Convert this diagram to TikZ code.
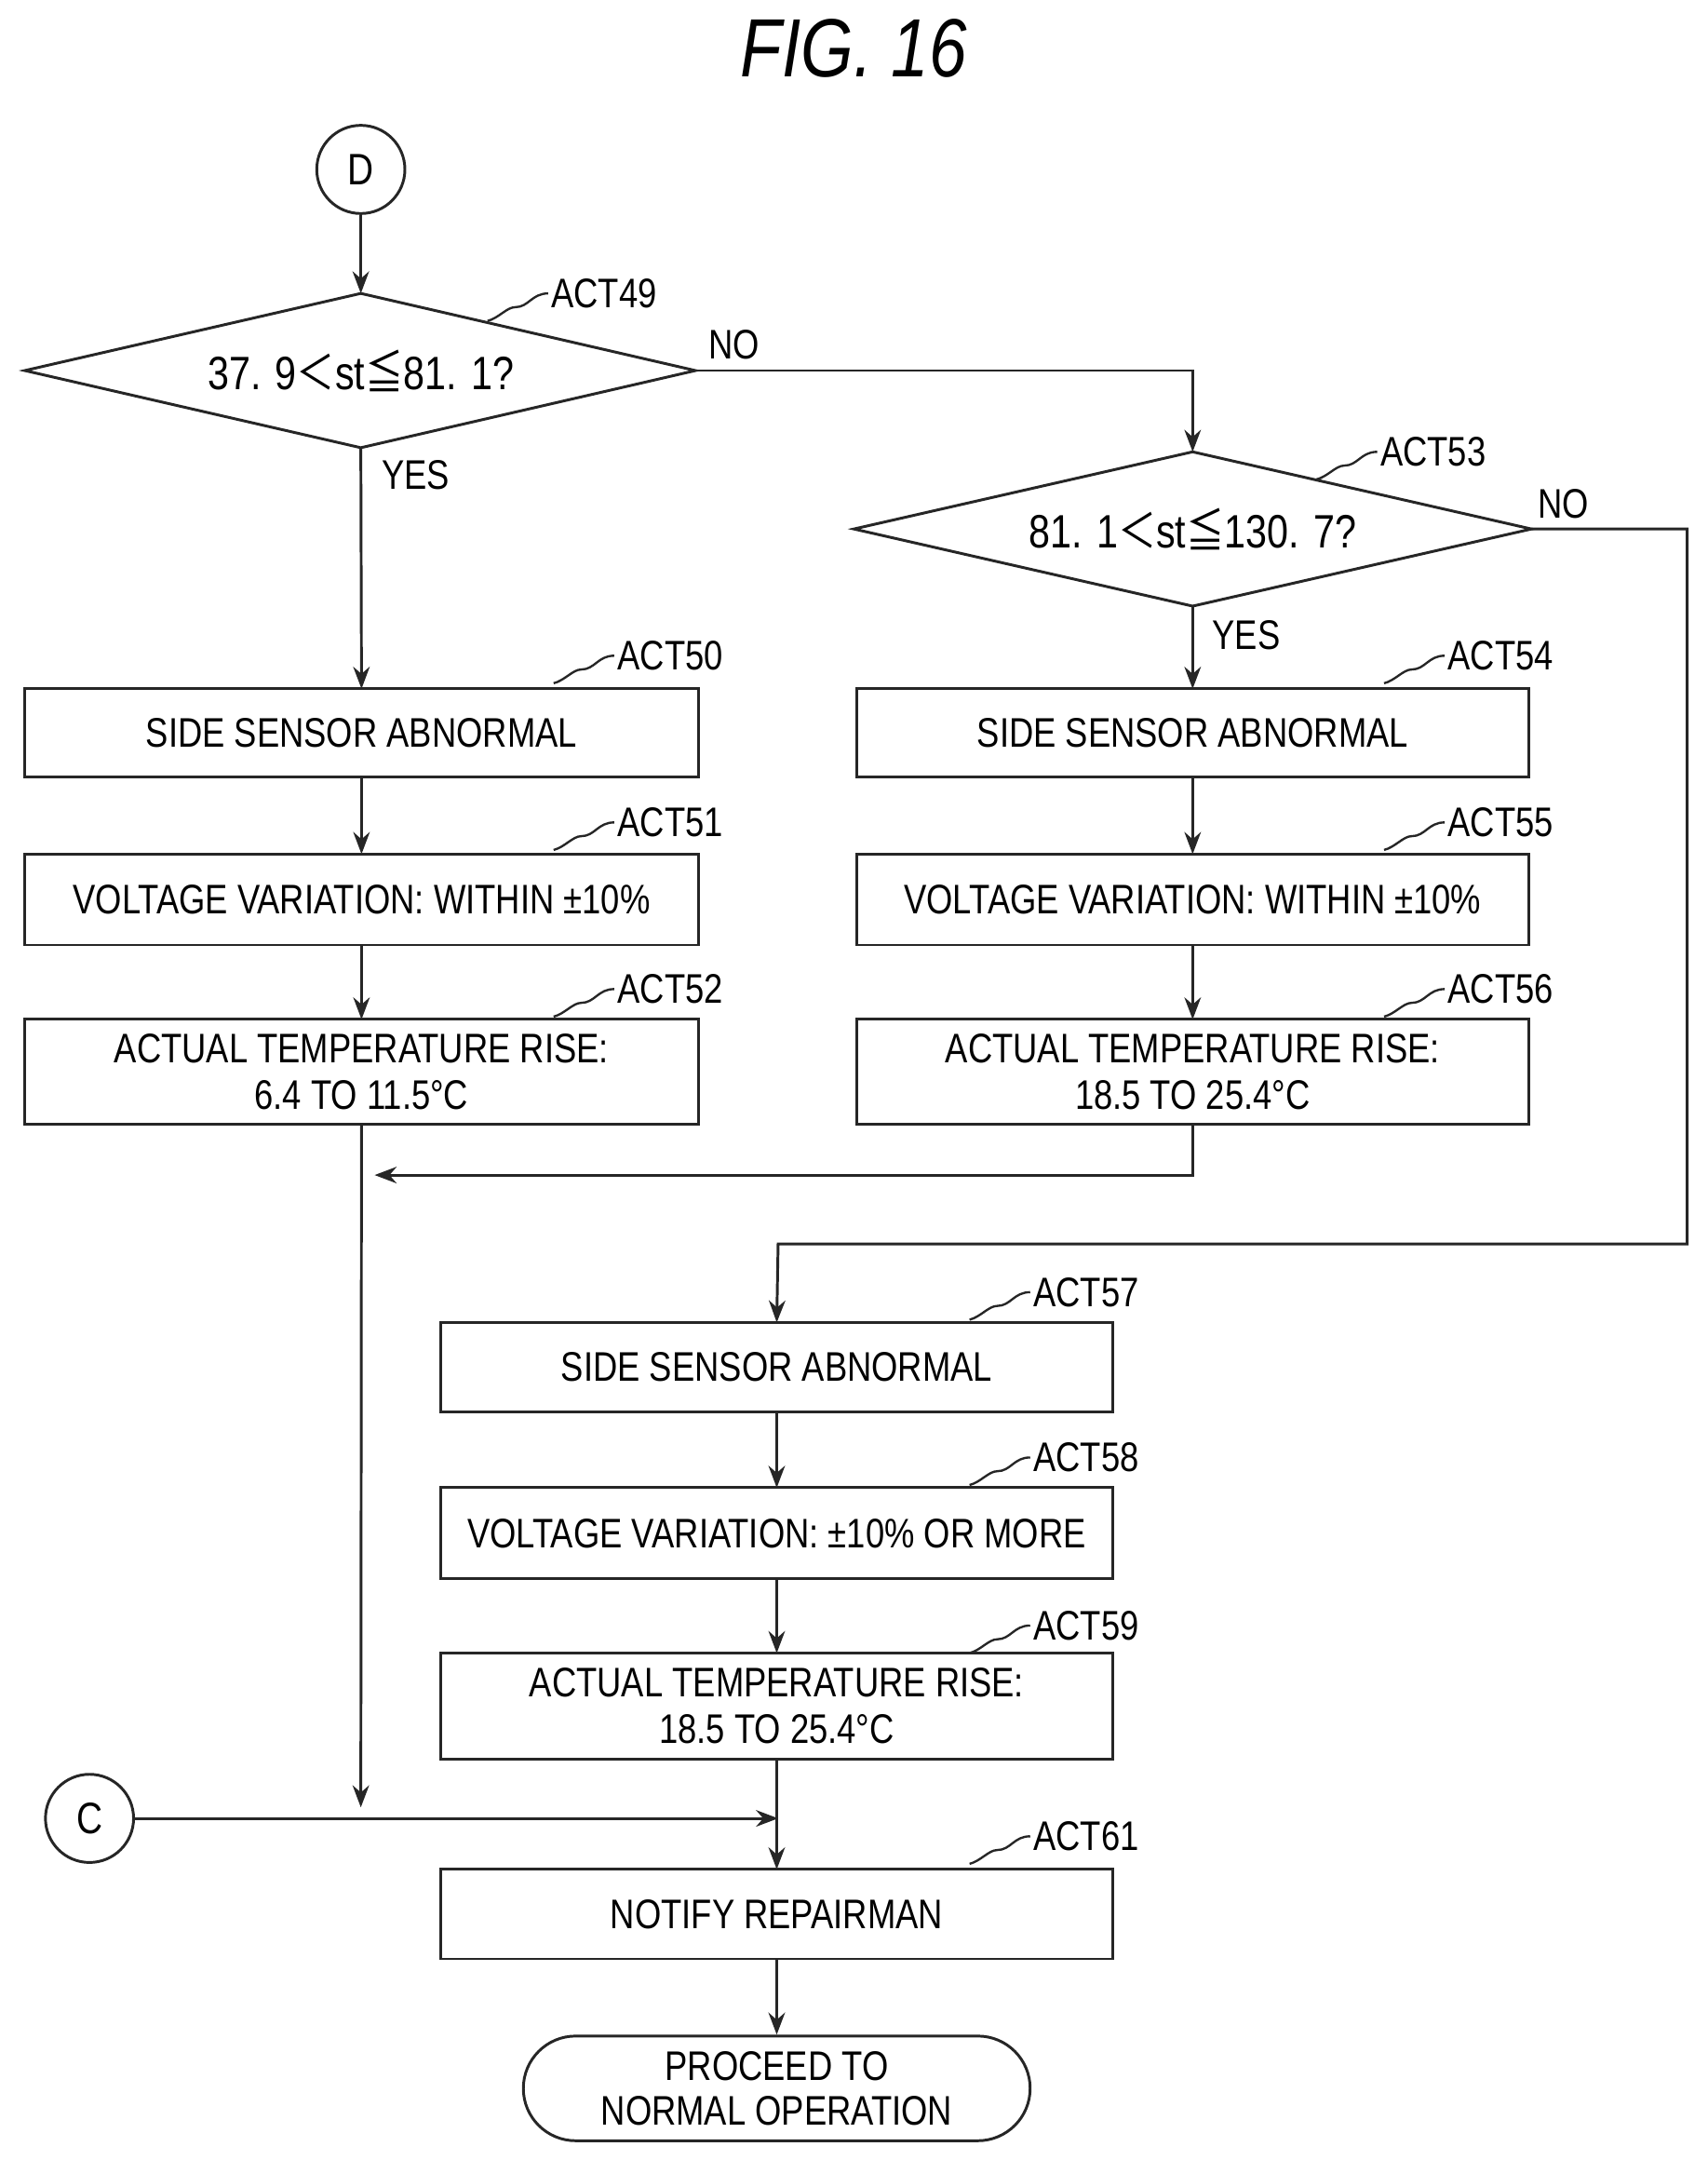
\documentclass[tikz,border=0pt]{standalone}
\usepackage{fontspec}
\setmainfont{Liberation Sans}[FakeStretch=0.82]
\newfontfamily\cjk{Noto Sans CJK JP}[FakeStretch=0.82]
\usetikzlibrary{shapes.geometric,shapes.misc,arrows.meta}
\begin{document}
\begin{tikzpicture}[x=0.5pt,y=-0.5pt,
  line/.style={draw=black!85,line width=1pt},
  arr/.style={line,-{Stealth[length=8pt,width=6pt]}},
  box/.style={rectangle,inner sep=0pt,font=\fontsize{15}{17}\selectfont,align=center},
  lab/.style={font=\fontsize{15}{17}\selectfont,inner sep=1pt},
  sq/.style={line,line width=0.8pt}]
\useasboundingbox (0,0) rectangle (1240,1568);
\node[font=\fontsize{30}{32}\selectfont\itshape] (title) at (620,35) {FIG. 16};
\node[line,circle,minimum size=32pt,inner sep=0pt,font=\fontsize{16}{18}\selectfont] (D) at (262,123) {D};
\node[line,circle,minimum size=32pt,inner sep=0pt,font=\fontsize{16}{18}\selectfont] (C) at (65,1320) {C};
% diamonds
\draw[line] (18,269) coordinate (d1w) -- (262,213) coordinate (d1n) -- (505,269) coordinate (d1e) -- (262,325) coordinate (d1s) -- cycle;
\node[lab,font=\fontsize{17}{19}\selectfont] (d1) at (262,269) {37. 9{\cjk ＜}st{\cjk ≦}81. 1?};
\draw[line] (620,384) coordinate (d2w) -- (866,328) coordinate (d2n) -- (1112,384) coordinate (d2e) -- (866,440) coordinate (d2s) -- cycle;
\node[lab,font=\fontsize{17}{19}\selectfont] (d2) at (866,384) {81. 1{\cjk ＜}st{\cjk ≦}130. 7?};
% boxes
\newcommand{\bx}[6]{\draw[line] (#1,#2) rectangle (#3,#4); \node[box] (#5) at ({(#1+#3)/2},{(#2+#4)/2}) {#6};
  \coordinate (#5n) at ({(#1+#3)/2},#2); \coordinate (#5s) at ({(#1+#3)/2},#4);}
\bx{18}{500}{507}{564}{a50}{SIDE SENSOR ABNORMAL}
\bx{18}{620}{507}{686}{a51}{VOLTAGE VARIATION: WITHIN ±10\%}
\bx{18}{740}{507}{816}{a52}{ACTUAL TEMPERATURE RISE:\\6.4 TO 11.5°C}
\bx{622}{500}{1110}{564}{a54}{SIDE SENSOR ABNORMAL}
\bx{622}{620}{1110}{686}{a55}{VOLTAGE VARIATION: WITHIN ±10\%}
\bx{622}{740}{1110}{816}{a56}{ACTUAL TEMPERATURE RISE:\\18.5 TO 25.4°C}
\bx{320}{960}{808}{1025}{a57}{SIDE SENSOR ABNORMAL}
\bx{320}{1080}{808}{1146}{a58}{VOLTAGE VARIATION: ±10\% OR MORE}
\bx{320}{1200}{808}{1277}{a59}{ACTUAL TEMPERATURE RISE:\\18.5 TO 25.4°C}
\bx{320}{1357}{808}{1422}{a61}{NOTIFY REPAIRMAN}
\node[line,rounded rectangle,minimum width=184pt,minimum height=38pt,inner sep=0pt,font=\fontsize{15}{16}\selectfont,align=center] (end) at (564,1516) {PROCEED TO\\NORMAL OPERATION};
% labels
\newcommand{\actl}[4]{\node[lab,anchor=west] (#1) at (#2,#3) {#4};
  \draw[sq] (#1.west) .. controls ++(-12,0) and ++(10,0) .. ++(-24,10) .. controls ++(-6,0) and ++(8,-2) .. ++(-20,10);}
\actl{l49}{398}{213}{ACT49}
\actl{l53}{1000}{328}{ACT53}
\actl{l50}{446}{476}{ACT50}
\actl{l51}{446}{597}{ACT51}
\actl{l52}{446}{718}{ACT52}
\actl{l54}{1049}{476}{ACT54}
\actl{l55}{1049}{597}{ACT55}
\actl{l56}{1049}{718}{ACT56}
\actl{l57}{748}{938}{ACT57}
\actl{l58}{748}{1058}{ACT58}
\actl{l59}{748}{1180}{ACT59}
\actl{l61}{748}{1333}{ACT61}
\node[lab] (no1) at (533,250) {NO};
\node[lab] (yes1) at (302,345) {YES};
\node[lab] (no2) at (1135,366) {NO};
\node[lab] (yes2) at (905,461) {YES};
% connectors
\draw[arr] (D) -- (d1n);
\draw[arr] (d1e) -| (d2n);
\draw[arr] (d1s) -- (a50n);
\draw[arr] (a50s) -- (a51n);
\draw[arr] (a51s) -- (a52n);
\draw[arr] (d2s) -- (a54n);
\draw[arr] (a54s) -- (a55n);
\draw[arr] (a55s) -- (a56n);
\coordinate (m1) at (262,853);
\coordinate (m2) at (262,1312);
\coordinate (m3) at (565,1320);
\coordinate (k1) at (1225,384);
\coordinate (k2) at (1225,903);
\coordinate (k3) at (565,903);
\draw[arr] (a56s) |- ([xshift=5]m1);
\draw[arr] (a52s) -- (m2);
\draw[arr] (d2e) -- (k1) -- (k2) -- (k3) -- (a57n);
\draw[arr] (a57s) -- (a58n);
\draw[arr] (a58s) -- (a59n);
\draw[arr] (C) -- (m3);
\draw[arr] (a59s) -- (a61n);
\draw[arr] (a61s) -- (end.north);
\end{tikzpicture}
\end{document}
